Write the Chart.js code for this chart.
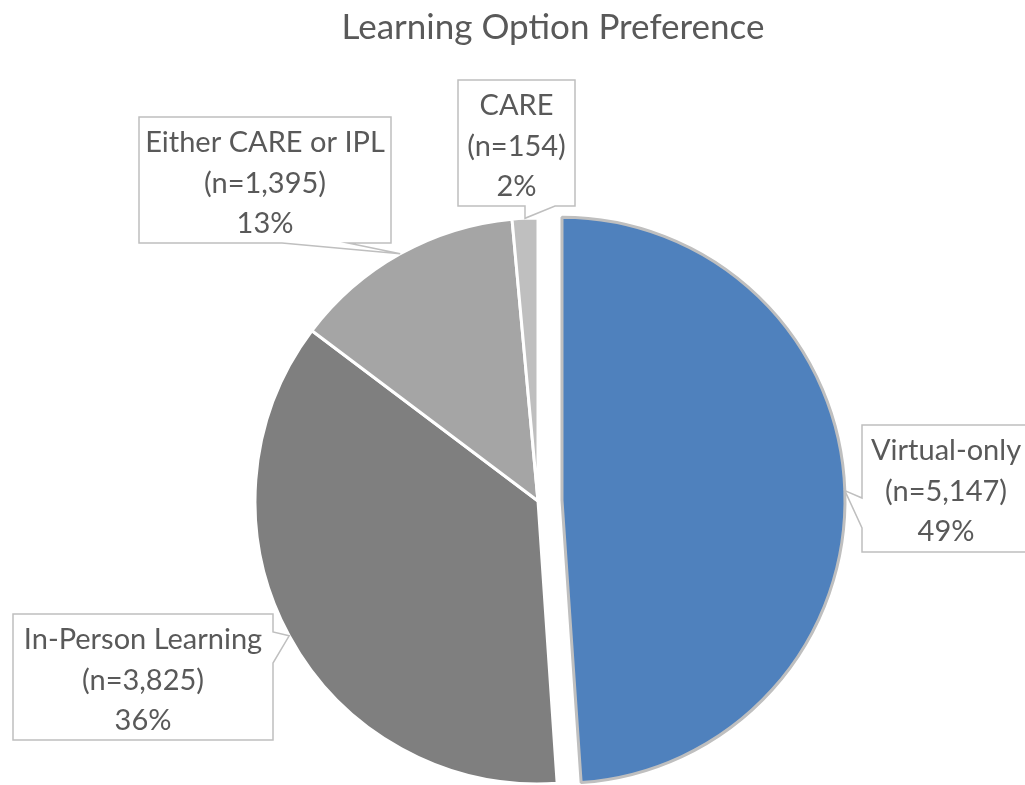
<!DOCTYPE html>
<html><head><meta charset="utf-8">
<script src="https://cdn.jsdelivr.net/npm/chart.js@4.4.1/dist/chart.umd.min.js"></script>
<style>html,body{margin:0;padding:0;background:#fff;overflow:hidden}#c{display:block}</style>
</head><body>
<canvas id="c" width="1025" height="785"></canvas>
<script>
// ---- data ----
const chartTitle = 'Learning Option Preference';
const categories = ['Virtual-only', 'In-Person Learning', 'Either CARE or IPL', 'CARE'];
const counts = [5147, 3825, 1395, 154];
const countLabels = ['5,147', '3,825', '1,395', '154'];
const percentLabels = ['49%', '36%', '13%', '2%'];

// ---- callout layout (label boxes, pointer bases) ----
const calloutLayout = [
  {box: [862, 425, 168, 127], edge: 'left',   bases: [498, 528]},
  {box: [13, 614, 260, 126],  edge: 'right',  bases: [632, 663]},
  {box: [139, 117, 252, 126], edge: 'bottom', bases: [282, 348]},
  {box: [458, 80, 117, 126],  edge: 'bottom', bases: [525, 555]}
];
const FONT = 'Lato, "Open Sans", sans-serif';
const TEXT_COLOR = '#595959';

const explodePlugin = {
  id: 'explode',
  afterDatasetsUpdate(chart, args, opts) {
    const arc = chart.getDatasetMeta(0).data[opts.index];
    if (!arc) return;
    const mid = (arc.startAngle + arc.endAngle) / 2;
    arc.x += Math.cos(mid) * opts.distance;
    arc.y += Math.sin(mid) * opts.distance;
  }
};

const calloutPlugin = {
  id: 'callouts',
  afterDraw(chart, args, opts) {
    const ctx = chart.ctx;
    ctx.save();
    // title
    ctx.fillStyle = TEXT_COLOR;
    ctx.font = '35px ' + FONT;
    ctx.textAlign = 'center';
    ctx.textBaseline = 'middle';
    ctx.fillText(chartTitle, opts.titleX, opts.titleY);

    const arcs = chart.getDatasetMeta(0).data;
    arcs.forEach((arc, i) => {
      const L = calloutLayout[i];
      const [bx, by, bw, bh] = L.box;
      const mid = (arc.startAngle + arc.endAngle) / 2;
      const tx = arc.x + Math.cos(mid) * arc.outerRadius;
      const ty = arc.y + Math.sin(mid) * arc.outerRadius;
      const pts = [[bx, by], [bx + bw, by]];
      if (L.edge === 'right') { pts.push([bx + bw, L.bases[0]], [tx, ty], [bx + bw, L.bases[1]]); }
      pts.push([bx + bw, by + bh]);
      if (L.edge === 'bottom') { pts.push([L.bases[1], by + bh], [tx, ty], [L.bases[0], by + bh]); }
      pts.push([bx, by + bh]);
      if (L.edge === 'left') { pts.push([bx, L.bases[1]], [tx, ty], [bx, L.bases[0]]); }
      ctx.beginPath();
      pts.forEach((p, k) => k ? ctx.lineTo(p[0], p[1]) : ctx.moveTo(p[0], p[1]));
      ctx.closePath();
      ctx.fillStyle = '#ffffff';
      ctx.fill();
      ctx.strokeStyle = '#bfbfbf';
      ctx.lineWidth = 1.5;
      ctx.stroke();

      const lines = [categories[i], '(n=' + countLabels[i] + ')', percentLabels[i]];
      ctx.fillStyle = TEXT_COLOR;
      ctx.font = '29px ' + FONT;
      ctx.textAlign = 'center';
      ctx.textBaseline = 'middle';
      const cx = bx + bw / 2;
      lines.forEach((t, k) => ctx.fillText(t, cx, by + 26 + k * 40.5));
    });
    ctx.restore();
  }
};

new Chart(document.getElementById('c').getContext('2d'), {
  type: 'pie',
  data: {
    labels: categories,
    datasets: [{
      data: counts,
      backgroundColor: ['#4f81bd', '#7f7f7f', '#a5a5a5', '#bfbfbf'],
      borderColor: ['#bfbfbf', '#ffffff', '#ffffff', '#ffffff'],
      borderWidth: 3,
      radius: 283
    }]
  },
  options: {
    responsive: false,
    animation: false,
    devicePixelRatio: 1,
    layout: {padding: {left: 51, right: 0, top: 217, bottom: 0}},
    plugins: {
      legend: {display: false},
      tooltip: {enabled: false},
      title: {display: false},
      explode: {index: 0, distance: 24},
      callouts: {titleX: 553, titleY: 28}
    }
  },
  plugins: [explodePlugin, calloutPlugin]
});
</script>
</body></html>
